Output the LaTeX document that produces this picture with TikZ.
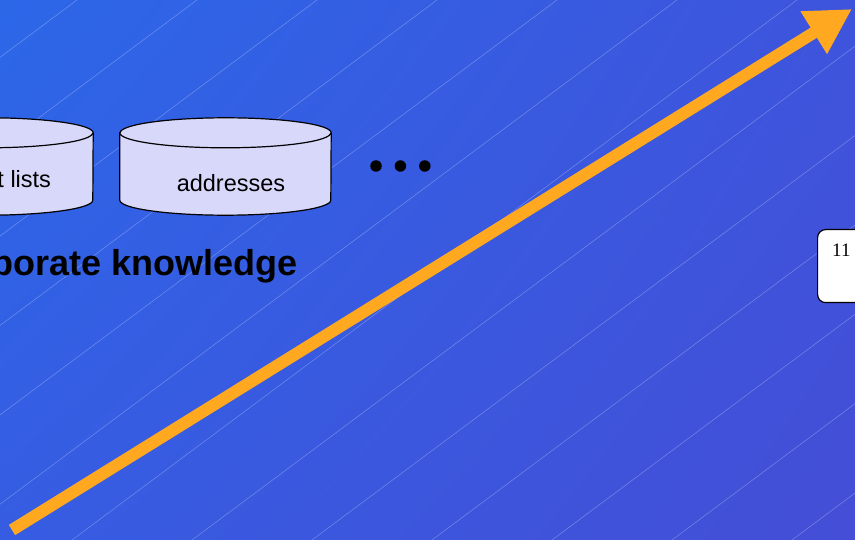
\documentclass[tikz,border=0pt]{standalone}
\usepackage{fontspec}
\setmainfont{Liberation Sans}
\newfontfamily\pagefont{Liberation Serif}
\usetikzlibrary{arrows.meta,positioning,shadings}
\definecolor{bgul}{RGB}{44,103,232}
\definecolor{bgur}{RGB}{62,84,220}
\definecolor{bgll}{RGB}{54,92,226}
\definecolor{bglr}{RGB}{68,78,214}
\definecolor{dbfill}{RGB}{216,216,250}
\definecolor{growth}{RGB}{255,168,32}
\newcommand\drawstore[1]{%
  \filldraw[cylline] ([yshift=-15pt]#1.north west)
    -- ([yshift=15pt]#1.south west)
    arc[start angle=180, end angle=360, x radius=105.5pt, y radius=15pt]
    -- ([yshift=-15pt]#1.north east)
    arc[start angle=0, end angle=180, x radius=105.5pt, y radius=15pt] -- cycle;
  \draw[cylline] ([yshift=-15pt]#1.north west)
    arc[start angle=180, end angle=360, x radius=105.5pt, y radius=15pt];}
\begin{document}
\begin{tikzpicture}
    [x=1pt, y=-1pt,
    hatch/.style={white, opacity=.3, line width=.5pt},
    store/.style={minimum width=211pt, minimum height=97pt, inner sep=0pt},
    cylline/.style={draw=black, line width=1.2pt, fill=dbfill},
    dbtext/.style={font=\fontsize{23.5}{26}\selectfont, inner sep=0pt},
    dot/.style={circle, fill=black, minimum size=11.5pt, inner sep=0pt},
    title/.style={font=\fontsize{36}{40}\selectfont\bfseries, inner sep=0pt},
    pagebox/.style={draw=black, line width=1.2pt, fill=white, rounded corners=8pt,
      minimum width=60pt, minimum height=73pt, anchor=north west},
    ]
    \useasboundingbox (0,0) rectangle (855,540);
    \clip (0,0) rectangle (855,540);
    % background
    \shade[upper left=bgul, upper right=bgur, lower left=bgll, lower right=bglr]
      (0,0) rectangle (855,540);
    \foreach \k in {0,...,13}
      \draw[hatch] (77+120*\k,0) -- (77+120*\k-725,540);
    % data stores
    \node[store] (lists) at (-12.5,166.5) {};
    \node[store] (addr) at (225.5,166.5) {};
    \drawstore{lists}
    \drawstore{addr}
    \node[dbtext, anchor=base east] (liststext) at ([xshift=-42pt,yshift=-21.5pt]lists.east) {t lists};
    \node[dbtext, anchor=base] (addrtext) at ([xshift=5.5pt,yshift=-25.5pt]addr.center) {addresses};
    \node[dot] (d1) at (376,166) {};
    \node[dot, right=12.5pt of d1] (d2) {};
    \node[dot, right=12.5pt of d2] (d3) {};
    \node[title, anchor=base east] (know) at (298,276) {porate knowledge};
    % page number
    \node[pagebox] (pg) at (817,229) {};
    \node[font=\pagefont\fontsize{19}{20}\selectfont, anchor=north west, inner sep=0pt]
      (pgnum) at ([xshift=15pt,yshift=-15pt]pg.north west) {11};
    % growth arrow
    \coordinate (from) at (12,530);
    \coordinate (to) at (852,9);
    \draw[growth, line width=12pt, -{Triangle[length=45pt, width=47pt]}] (from) -- (to);
  \end{tikzpicture}
\end{document}
